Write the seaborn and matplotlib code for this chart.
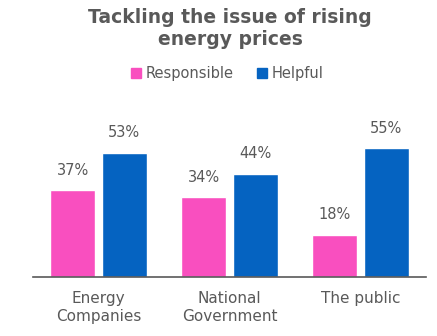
import matplotlib
matplotlib.use("Agg")
import matplotlib.pyplot as plt
import seaborn as sns
import pandas as pd
from matplotlib.patches import Patch

categories = ["Energy\nCompanies", "National\nGovernment", "The public"]
series_names = ["Responsible", "Helpful"]
responsible = [37, 34, 18]
helpful = [53, 44, 55]
colors = ["#F94FBF", "#0563C1"]
title = "Tackling the issue of rising\nenergy prices"

df = pd.DataFrame({
    "category": categories * 2,
    "series": [series_names[0]] * 3 + [series_names[1]] * 3,
    "value": responsible + helpful,
})

sns.set_style("white")
plt.rcParams["font.family"] = ["DejaVu Sans"]
txt = "#595959"

fig = plt.figure(figsize=(4.37, 3.36), dpi=100)
ax = fig.add_axes([0.0755, 0.1756, 0.8995, 0.4184])
sns.barplot(data=df, x="category", y="value", hue="series", palette=colors,
            width=0.786, gap=0.127, ax=ax, legend=False, saturation=1)
ax.set_ylim(0, 60)
ax.set_xlim(-0.5, 2.5)
ax.set_xlabel("")
ax.set_ylabel("")
ax.set_yticks([])
for s in ["left", "right", "top"]:
    ax.spines[s].set_visible(False)
ax.spines["bottom"].set_color("#595959")
ax.spines["bottom"].set_linewidth(1.2)
ax.tick_params(axis="x", length=0, labelsize=11, labelcolor=txt, pad=10)
for lab in ax.get_xticklabels():
    lab.set_linespacing(1.3)

for cont in ax.containers:
    ax.bar_label(cont, labels=[f"{int(v)}%" for v in cont.datavalues],
                 padding=9, fontsize=10.5, color=txt)

fig.text(0.527, 0.975, title, ha="center", va="top", fontsize=13.5,
         fontweight="bold", color="#595959", linespacing=1.15)

handles = [Patch(color=c, label=n) for c, n in zip(colors, series_names)]
fig.legend(handles=handles, loc="center", bbox_to_anchor=(0.52, 0.782), ncol=2,
           frameon=False, fontsize=10.5, labelcolor=txt, handlelength=0.7,
           handleheight=0.7, handletextpad=0.3, columnspacing=1.6)

fig.savefig("out.png", dpi=100)
